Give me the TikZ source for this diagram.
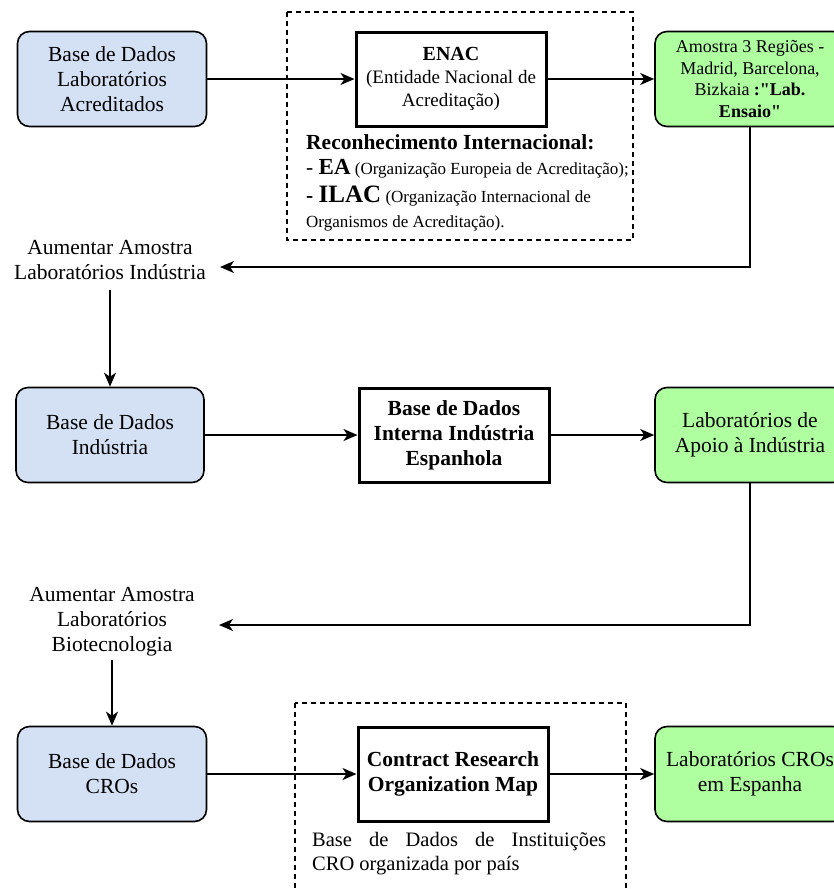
\documentclass[tikz,border=0pt]{standalone}
\usepackage{fontspec}
\setmainfont{Liberation Serif}
\newfontfamily\qfont{Liberation Serif}
\usepackage{xcolor}
\usetikzlibrary{arrows.meta}
\definecolor{dbblue}{RGB}{212,225,245}
\definecolor{labgreen}{RGB}{175,255,160}
\newcommand{\dq}{{\qfont\bfseries"}}

\begin{document}
\begin{tikzpicture}[x=1pt,y=-1pt,
  dbbox/.style={draw,line width=1.6pt,rounded corners=12pt,fill=dbblue,minimum width=189pt,minimum height=95pt,align=center,font=\fontsize{21.5}{25}\selectfont},
  labbox/.style={dbbox,fill=labgreen,minimum width=190pt},
  srcbox/.style={draw,line width=3pt,minimum width=190pt,minimum height=94pt,align=center},
  grpbox/.style={draw,line width=1.2pt,dash pattern=on 5pt off 4pt},
  arr/.style={-{Stealth[length=14pt,width=12pt,inset=4pt]},line width=1.6pt},
  txt/.style={align=center,inner sep=0pt,font=\fontsize{21.5}{25}\selectfont}]
\useasboundingbox (0,0) rectangle (833,889);
% grupos
\draw [grpbox] (287,12) rectangle (633,240);
\draw [grpbox] (295,703) rectangle (626,900);
% linha 1
\node (1) at (112,79) [dbbox] {Base de Dados\\Laboratórios\\Acreditados};
\node (2) at (451,79) [srcbox,font=\fontsize{19}{23}\selectfont] {\textbf{\fontsize{20}{23}\selectfont ENAC}\\(Entidade Nacional de\\Acreditação)};
\node (3) at (750,79) [labbox,font=\fontsize{18}{21.5}\selectfont] {Amostra 3 Regiões -\\Madrid, Barcelona,\\Bizkaia \textbf{:\dq Lab.}\\\textbf{Ensaio\dq}};
\node (r1) at (306,149) [anchor=base west,inner sep=0pt,font=\bfseries\fontsize{21.5}{25}\selectfont] {Reconhecimento Internacional:};
\node (r2) at (306,174) [anchor=base west,inner sep=0pt,font=\fontsize{17}{20}\selectfont] {{\fontsize{21.5}{25}\selectfont -~\textbf{\fontsize{23}{25}\selectfont EA}} (Organização Europeia de Acreditação);};
\node (r3) at (306,202) [anchor=base west,inner sep=0pt,font=\fontsize{17}{20}\selectfont] {{\fontsize{21.5}{25}\selectfont\bfseries -~\fontsize{25}{28}\selectfont ILAC} (Organização Internacional de};
\node (r4) at (306,227) [anchor=base west,inner sep=0pt,font=\fontsize{17}{20}\selectfont] {Organismos de Acreditação).};
% linha 2
\node (t1) at (110,260) [txt] {Aumentar Amostra\\Laboratórios Indústria};
\node (4) at (110,435) [dbbox,minimum width=188pt] {Base de Dados\\Indústria};
\node (5) at (454,435) [srcbox,font=\bfseries\fontsize{21.5}{25}\selectfont] {Base de Dados\\Interna Indústria\\Espanhola};
\node (6) at (750,435) [labbox] {Laboratórios de\\Apoio à Indústria};
% linha 3
\node (t2) at (112,622) [txt] {Aumentar Amostra\\Laboratórios\\Biotecnologia};
\node (7) at (112,774) [dbbox] {Base de Dados\\CROs};
\node (8) at (453,774) [srcbox,font=\bfseries\fontsize{21.5}{25}\selectfont] {Contract Research\\Organization Map};
\node (9) at (750,774) [labbox] {Laboratórios CROs\\em Espanha};
\node (n1) at (312,832) [anchor=north west,text width=294pt,align=justify,inner sep=0pt,font=\fontsize{20.5}{24}\selectfont] {Base de Dados de Instituições\linebreak CRO organizada por país};
\coordinate (c1) at (220,267);
\coordinate (c2) at (219,625);
\draw [arr] (1) -- (2);
\draw [arr] (2) -- (3);
\draw [arr] (3.south) |- (c1);
\draw [arr] (t1.south) ++(0,10) -- (4.north);
\draw [arr] (4) -- (5);
\draw [arr] (5) -- (6);
\draw [arr] (6.south) |- (c2);
\draw [arr] (t2.south) ++(0,3) -- (7.north);
\draw [arr] (7) -- (8);
\draw [arr] (8) -- (9);
\end{tikzpicture}
\end{document}
